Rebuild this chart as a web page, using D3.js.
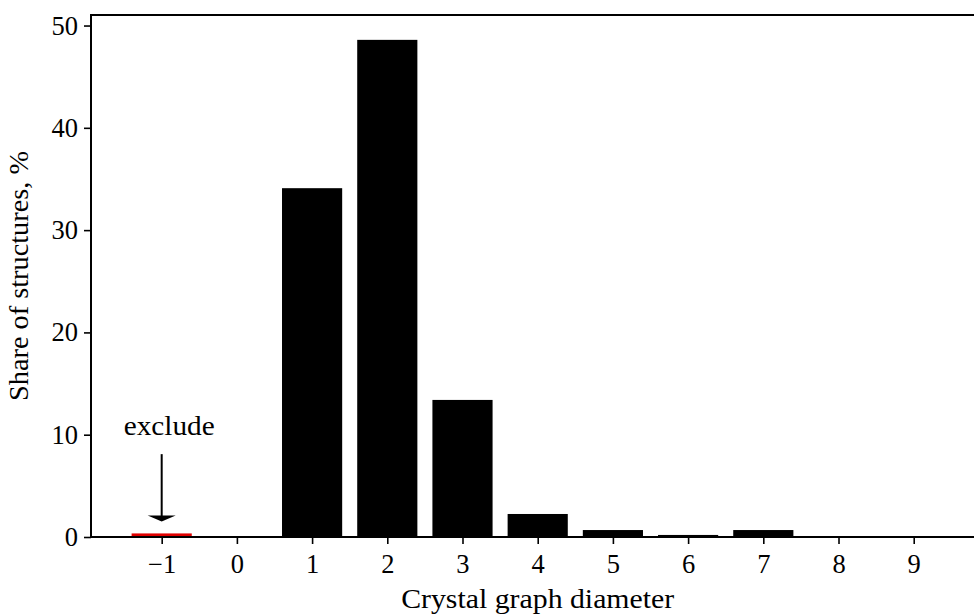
<!DOCTYPE html>
<html>
<head>
<meta charset="utf-8">
<script src="https://cdn.jsdelivr.net/npm/d3@7"></script>
<style>
  html, body { margin: 0; padding: 0; background: #fff; }
  svg { display: block; }
  text { font-family: "Liberation Serif", "DejaVu Serif", serif; fill: #000; }
</style>
</head>
<body>
<svg id="chart" width="974" height="616"></svg>
<script>
// Share of structures by crystal graph diameter (-1 = disconnected, excluded)
const diameters = [-1, 0, 1, 2, 3, 4, 5, 6, 7, 8, 9];
const shares    = [0.35, 0, 34.1, 48.6, 13.4, 2.25, 0.68, 0.2, 0.68, 0.03, 0.03];
const barColors = ["#e00000", "#000", "#000", "#000", "#000", "#000", "#000", "#000", "#000", "#000", "#000"];
const yTicks    = [0, 10, 20, 30, 40, 50];
const xLabel    = "Crystal graph diameter";
const yLabel    = "Share of structures, %";
const noteText  = "exclude";

const svg = d3.select("#chart");
const plotLeft = 91, plotRight = 984.4, plotTop = 15, plotBottom = 537;

const barWidth = 0.8;
const x = d3.scaleLinear().domain([-1.94, 9.94]).range([plotLeft, plotRight]);
const y = d3.scaleLinear().domain([0, 51.03]).range([plotBottom, plotTop]);

// bars
svg.append("g").selectAll("rect")
  .data(diameters.map((d, i) => ({ d, v: shares[i], c: barColors[i] })))
  .join("rect")
  .attr("x", p => x(p.d - barWidth / 2))
  .attr("width", p => x(p.d + barWidth / 2) - x(p.d - barWidth / 2))
  .attr("y", p => y(p.v))
  .attr("height", p => y(0) - y(p.v))
  .attr("fill", p => p.c);

// axes
const fmt = d => (d < 0 ? "\u2212" + Math.abs(d) : String(d));
const xAxis = svg.append("g")
  .attr("transform", `translate(0,${plotBottom})`)
  .call(d3.axisBottom(x).tickValues(diameters).tickFormat(fmt).tickSize(7).tickPadding(9));
const yAxis = svg.append("g")
  .attr("transform", `translate(${plotLeft},0)`)
  .call(d3.axisLeft(y).tickValues(yTicks).tickSize(7).tickPadding(6));

[xAxis, yAxis].forEach(g => {
  g.select(".domain").remove();
  g.selectAll(".tick line").attr("stroke", "#000").attr("stroke-width", 1.6);
  g.selectAll(".tick text")
    .attr("font-family", "Liberation Serif, DejaVu Serif, serif")
    .attr("font-size", 26.5)
    .attr("fill", "#000");
});
xAxis.selectAll(".tick text").attr("dy", "0.75em");

// frame
svg.append("rect")
  .attr("x", plotLeft).attr("y", plotTop)
  .attr("width", plotRight - plotLeft).attr("height", plotBottom - plotTop)
  .attr("fill", "none").attr("stroke", "#000").attr("stroke-width", 2);

// axis titles
svg.append("text")
  .attr("x", (plotLeft + plotRight) / 2).attr("y", 608)
  .attr("text-anchor", "middle")
  .attr("font-size", 27)
  .attr("textLength", 273).attr("lengthAdjust", "spacingAndGlyphs")
  .text(xLabel);

svg.append("text")
  .attr("transform", `translate(28,${(plotTop + plotBottom) / 2}) rotate(-90)`)
  .attr("text-anchor", "middle")
  .attr("font-size", 27)
  .attr("textLength", 250).attr("lengthAdjust", "spacingAndGlyphs")
  .text(yLabel);

// annotation arrow pointing at the excluded bar
const ax = x(-1);
const tipY = y(0.35) - 12, tailY = y(8.1);
svg.append("line")
  .attr("x1", ax).attr("x2", ax)
  .attr("y1", tailY).attr("y2", tipY - 4)
  .attr("stroke", "#000").attr("stroke-width", 2);
svg.append("path")
  .attr("d", `M${ax - 14},${tipY - 6} L${ax + 14},${tipY - 6} L${ax},${tipY} Z`)
  .attr("fill", "#000");

svg.append("text")
  .attr("x", x(-0.9)).attr("y", y(10.0))
  .attr("text-anchor", "middle")
  .attr("font-size", 27)
  .attr("textLength", 91).attr("lengthAdjust", "spacingAndGlyphs")
  .text(noteText);
</script>
</body>
</html>
